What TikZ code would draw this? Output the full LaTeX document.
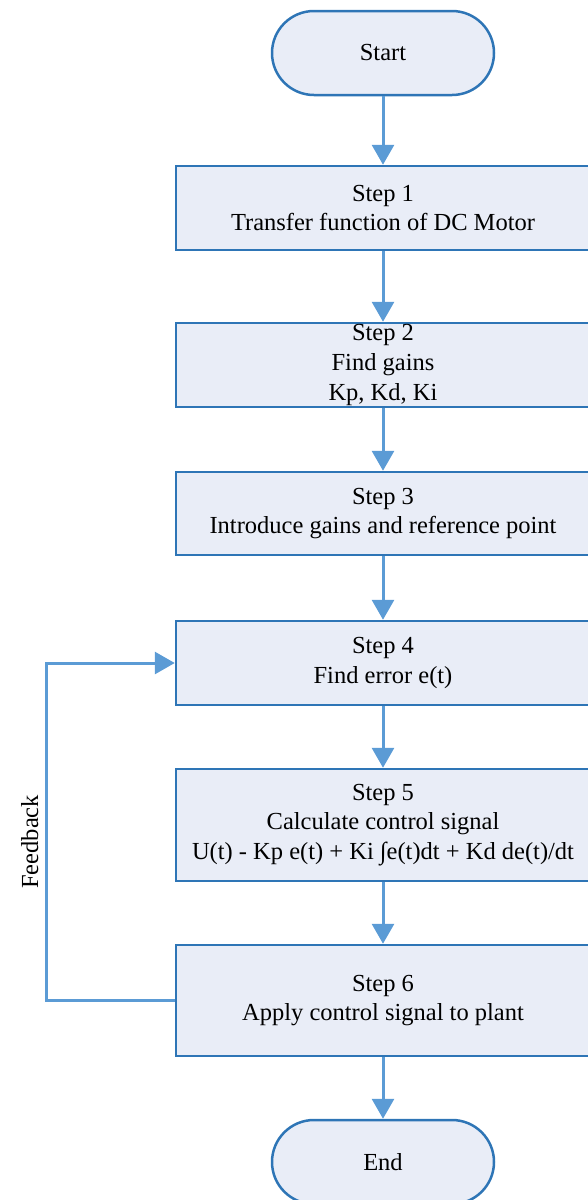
\documentclass[tikz,border=0pt]{standalone}
\usepackage{fontspec}
\setmainfont{Liberation Serif}
\usetikzlibrary{arrows.meta,positioning}
\definecolor{boxline}{RGB}{46,117,182}
\definecolor{boxfill}{RGB}{233,237,247}
\definecolor{flowline}{RGB}{91,155,213}
\tikzset{>={Triangle[length=20pt,width=22pt]}}
\tikzset{
  stepbox/.style={draw=boxline,fill=boxfill,line width=2.5pt,minimum width=414pt,align=center,inner sep=0pt,font=\fontsize{24.5}{29.8}\selectfont},
  termbox/.style={stepbox,minimum width=222pt,minimum height=84pt,rounded corners=42pt},
  flow/.style={draw=flowline,line width=3pt,->}
}

\begin{document}
\begin{tikzpicture}[x=1pt,y=-1pt]
\useasboundingbox (0,0) rectangle (588,1200);
\clip (0,0) rectangle (588,1200);

%Shape: Terminal
\node[termbox] (start) at (383,53) {Start};
%Shape: Rectangle
\node[stepbox,minimum height=84pt] (s1) at (383,208) {Step 1\\Transfer function of DC Motor};
\node[stepbox,minimum height=84pt] (s2) at (383,365) {Step 2\\Find gains\\Kp, Kd, Ki};
\node[stepbox,minimum height=83pt] (s3) at (383,513.5) {Step 3\\Introduce gains and reference point};
\node[stepbox,minimum height=84pt] (s4) at (383,663) {Step 4\\Find error e(t)};
\node[stepbox,minimum height=112pt] (s5) at (383,825) {Step 5\\Calculate control signal\\U(t) - Kp e(t) + Ki ∫e(t)dt + Kd de(t)/dt};
\node[stepbox,minimum height=111pt] (s6) at (383,1000.5) {Step 6\\Apply control signal to plant};
%Shape: Terminal
\node[termbox] (end) at (383,1162) {End};

%Straight Lines
\draw[flow] (start) -- (s1);
\draw[flow] (s1) -- (s2);
\draw[flow] (s2) -- (s3);
\draw[flow] (s3) -- (s4);
\draw[flow] (s4) -- (s5);
\draw[flow] (s5) -- (s6);
\draw[flow] (s6) -- (end);
%Feedback loop
\draw[flow] (s6.west) -- ++(-128.5,0) coordinate (fb) -- (fb |- s4.west) node[pos=0.47,sloped,above=3pt,text=black,font=\fontsize{24.5}{29.8}\selectfont]{Feedback} -- (s4.west);
\end{tikzpicture}
\end{document}
